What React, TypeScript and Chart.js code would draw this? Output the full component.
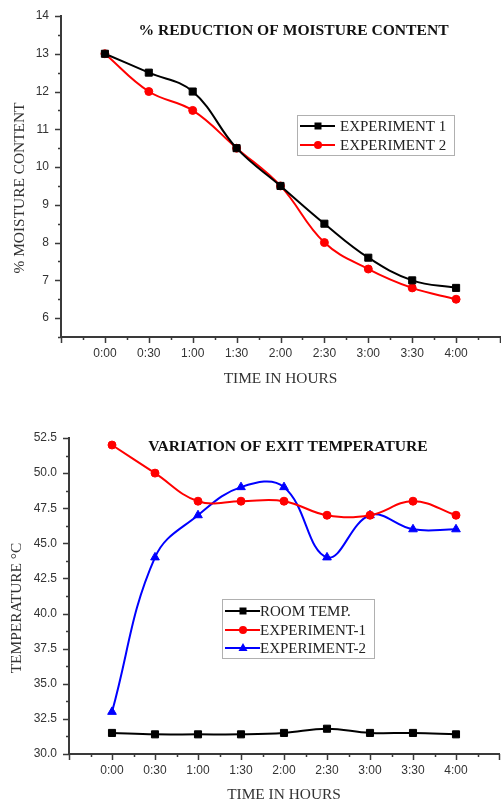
import React, { useEffect, useRef } from 'react';
import { Chart, registerables } from 'chart.js';

Chart.register(...registerables);

// ---------- data ----------
const timeLabels = ['0:00', '0:30', '1:00', '1:30', '2:00', '2:30', '3:00', '3:30', '4:00'];

const moistureExp1 = [13, 12.5, 12, 10.5, 9.5, 8.5, 7.6, 7.0, 6.8];
const moistureExp2 = [13, 12, 11.5, 10.5, 9.5, 8.0, 7.3, 6.8, 6.5];
const moistureTickValues = [6, 7, 8, 9, 10, 11, 12, 13, 14];

const roomTemp = [31.5, 31.4, 31.4, 31.4, 31.5, 31.8, 31.5, 31.5, 31.4];
const tempExp1 = [52, 50, 48, 48, 48, 47, 47, 48, 47];
const tempExp2 = [33, 44, 47, 49, 49, 44, 47, 46, 46];
const tempTickValues = [30, 32.5, 35, 37.5, 40, 42.5, 45, 47.5, 50, 52.5];

// ---------- styles ----------
const AXIS = '#3a3a3a';
const TICK_TEXT = '#333333';
const SANS = '"Liberation Sans", Arial, sans-serif';
const SERIF = '"Liberation Serif", "Times New Roman", serif';

type Marker = 'rect' | 'circle' | 'triangle';

const toPoints = (arr: number[]) => arr.map((v, i) => ({ x: i, y: v }));

const near = (v: number, list: number[]) => list.some((t) => Math.abs(t - v) < 1e-6);

function drawMarker(ctx: CanvasRenderingContext2D, kind: Marker, x: number, y: number, color: string) {
  ctx.fillStyle = color;
  ctx.beginPath();
  if (kind === 'rect') {
    ctx.rect(x - 3.5, y - 3.5, 7, 7);
  } else if (kind === 'circle') {
    ctx.arc(x, y, 4, 0, Math.PI * 2);
  } else {
    ctx.moveTo(x, y - 5);
    ctx.lineTo(x + 4.5, y + 3);
    ctx.lineTo(x - 4.5, y + 3);
    ctx.closePath();
  }
  ctx.fill();
}

interface DecorCfg {
  title: string;
  titleX: number;
  titleY: number;
  xTitle: string;
  xTitleX: number;
  xTitleY: number;
  yTitle: string;
  yTitleX: number;
  yTitleY: number;
  yMajor: number[];
  legend: {
    box: [number, number, number, number];
    rowsY: number[];
    lineX: [number, number];
    markerX: number;
    textX: number;
    items: { label: string; color: string; marker: Marker }[];
  };
}

function makeDecor(cfg: DecorCfg) {
  return {
    id: 'decor',
    afterDraw(chart: any) {
      const ctx: CanvasRenderingContext2D = chart.ctx;
      const xs = chart.scales.x;
      const ys = chart.scales.y;
      ctx.save();
      // tick marks
      ctx.strokeStyle = AXIS;
      ctx.lineWidth = 1.5;
      ctx.beginPath();
      xs.ticks.forEach((t: any) => {
        const px = Math.round(xs.getPixelForValue(t.value)) + 0.5;
        const len = Number.isInteger(t.value) ? 6 : 3;
        ctx.moveTo(px, xs.top);
        ctx.lineTo(px, xs.top + len);
      });
      ys.ticks.forEach((t: any) => {
        const py = Math.round(ys.getPixelForValue(t.value)) + 0.5;
        const len = near(t.value, cfg.yMajor) ? 6 : 3;
        ctx.moveTo(ys.right - len, py);
        ctx.lineTo(ys.right, py);
      });
      ctx.stroke();

      // chart title
      ctx.fillStyle = '#111';
      ctx.font = `bold 15.6px ${SERIF}`;
      ctx.textAlign = 'center';
      ctx.textBaseline = 'middle';
      ctx.fillText(cfg.title, cfg.titleX, cfg.titleY);

      // axis titles
      ctx.fillStyle = '#333';
      ctx.font = `15.4px ${SERIF}`;
      ctx.fillText(cfg.xTitle, cfg.xTitleX, cfg.xTitleY);
      ctx.save();
      ctx.translate(cfg.yTitleX, cfg.yTitleY);
      ctx.rotate(-Math.PI / 2);
      ctx.fillText(cfg.yTitle, 0, 0);
      ctx.restore();

      // legend
      const lg = cfg.legend;
      const [bx1, by1, bx2, by2] = lg.box;
      ctx.fillStyle = '#ffffff';
      ctx.fillRect(bx1, by1, bx2 - bx1, by2 - by1);
      ctx.strokeStyle = '#b0b0b0';
      ctx.lineWidth = 1;
      ctx.strokeRect(bx1 + 0.5, by1 + 0.5, bx2 - bx1, by2 - by1);
      ctx.font = `15px ${SERIF}`;
      ctx.textAlign = 'left';
      lg.items.forEach((it, i) => {
        const ry = lg.rowsY[i];
        ctx.strokeStyle = it.color;
        ctx.lineWidth = 2;
        ctx.beginPath();
        ctx.moveTo(lg.lineX[0], ry);
        ctx.lineTo(lg.lineX[1], ry);
        ctx.stroke();
        drawMarker(ctx, it.marker, lg.markerX, ry, it.color);
        ctx.fillStyle = '#222';
        ctx.fillText(it.label, lg.textX, ry + 1);
      });
      ctx.restore();
    },
  };
}

function dataset(label: string, values: number[], color: string, style: Marker, radius: number) {
  return {
    label,
    data: toPoints(values),
    borderColor: color,
    backgroundColor: color,
    borderWidth: 2,
    pointStyle: style,
    pointRadius: radius,
    pointHoverRadius: radius,
    pointBackgroundColor: color,
    pointBorderColor: color,
    pointBorderWidth: 1,
    tension: 0.4,
    fill: false,
  };
}

function baseScales(
  yMin: number,
  yMax: number,
  yStep: number,
  yMajor: number[],
  yFmt: (v: number) => string,
  yWidth: number,
  xHeight: number
) {
  return {
    x: {
      type: 'linear',
      min: -1,
      max: timeLabels.length,
      ticks: {
        stepSize: 0.5,
        autoSkip: false,
        maxRotation: 0,
        maxTicksLimit: 200,
        padding: 9,
        color: TICK_TEXT,
        font: { family: SANS, size: 12 },
        callback: (v: number) =>
          Number.isInteger(v) && v >= 0 && v < timeLabels.length ? timeLabels[v] : '',
      },
      grid: { display: false, drawTicks: false },
      border: { display: true, color: AXIS, width: 2 },
      afterFit: (s: any) => {
        s.height = xHeight;
        s.paddingLeft = 0;
        s.paddingRight = 0;
      },
    },
    y: {
      type: 'linear',
      min: yMin,
      max: yMax,
      ticks: {
        stepSize: yStep,
        autoSkip: false,
        maxTicksLimit: 200,
        padding: 12,
        color: TICK_TEXT,
        font: { family: SANS, size: 12 },
        callback: (v: number) => (near(v, yMajor) ? yFmt(v) : ''),
      },
      grid: { display: false, drawTicks: false },
      border: { display: true, color: AXIS, width: 2 },
      afterFit: (s: any) => {
        s.width = yWidth;
        s.paddingTop = 0;
        s.paddingBottom = 0;
      },
    },
  };
}

function MoistureChart() {
  const ref = useRef<HTMLCanvasElement>(null);
  useEffect(() => {
    if (!ref.current) return;
    const chart = new Chart(ref.current, {
      type: 'line',
      data: {
        datasets: [
          dataset('EXPERIMENT 1', moistureExp1, '#000000', 'rect', 5),
          dataset('EXPERIMENT 2', moistureExp2, '#ff0000', 'circle', 4),
        ] as any,
      },
      options: {
        responsive: false,
        animation: false,
        devicePixelRatio: 1,
        layout: { autoPadding: false, padding: { top: 16, right: 1, left: 0, bottom: 0 } },
        plugins: { legend: { display: false }, tooltip: { enabled: false }, title: { display: false } },
        scales: baseScales(5.5, 14, 0.5, moistureTickValues, (v) => String(v), 61, 63) as any,
      },
      plugins: [
        makeDecor({
          title: '% REDUCTION OF MOISTURE CONTENT',
          titleX: 293.5,
          titleY: 31,
          xTitle: 'TIME IN HOURS',
          xTitleX: 280.5,
          xTitleY: 379,
          yTitle: '% MOISTURE CONTENT',
          yTitleX: 20,
          yTitleY: 188,
          yMajor: moistureTickValues,
          legend: {
            box: [297, 115, 454, 155],
            rowsY: [126, 145],
            lineX: [300, 335],
            markerX: 318,
            textX: 340,
            items: [
              { label: 'EXPERIMENT 1', color: '#000000', marker: 'rect' },
              { label: 'EXPERIMENT 2', color: '#ff0000', marker: 'circle' },
            ],
          },
        }) as any,
      ],
    });
    return () => chart.destroy();
  }, []);
  return <canvas ref={ref} width={501} height={400} style={{ display: 'block', width: 501, height: 400 }} />;
}

function TemperatureChart() {
  const ref = useRef<HTMLCanvasElement>(null);
  useEffect(() => {
    if (!ref.current) return;
    const chart = new Chart(ref.current, {
      type: 'line',
      data: {
        datasets: [
          dataset('ROOM TEMP.', roomTemp, '#000000', 'rect', 5),
          dataset('EXPERIMENT-1', tempExp1, '#ff0000', 'circle', 4),
          dataset('EXPERIMENT-2', tempExp2, '#0000ff', 'triangle', 5),
        ] as any,
      },
      options: {
        responsive: false,
        animation: false,
        devicePixelRatio: 1,
        layout: { autoPadding: false, padding: { top: 38, right: 2, left: 0, bottom: 0 } },
        plugins: { legend: { display: false }, tooltip: { enabled: false }, title: { display: false } },
        scales: baseScales(30, 52.5, 1.25, tempTickValues, (v) => v.toFixed(1), 69, 51) as any,
      },
      plugins: [
        makeDecor({
          title: 'VARIATION OF EXIT TEMPERATURE',
          titleX: 288,
          titleY: 46.5,
          xTitle: 'TIME IN HOURS',
          xTitleX: 284,
          xTitleY: 395,
          yTitle: 'TEMPERATURE °C',
          yTitleX: 17,
          yTitleY: 208,
          yMajor: tempTickValues,
          legend: {
            box: [222, 199, 374, 258],
            rowsY: [211, 230, 248],
            lineX: [225, 260],
            markerX: 243,
            textX: 260,
            items: [
              { label: 'ROOM TEMP.', color: '#000000', marker: 'rect' },
              { label: 'EXPERIMENT-1', color: '#ff0000', marker: 'circle' },
              { label: 'EXPERIMENT-2', color: '#0000ff', marker: 'triangle' },
            ],
          },
        }) as any,
      ],
    });
    return () => chart.destroy();
  }, []);
  return <canvas ref={ref} width={501} height={405} style={{ display: 'block', width: 501, height: 405 }} />;
}

export default function App() {
  return (
    <div style={{ position: 'absolute', top: 0, left: 0, width: 501, height: 805, background: '#ffffff' }}>
      <MoistureChart />
      <TemperatureChart />
    </div>
  );
}
